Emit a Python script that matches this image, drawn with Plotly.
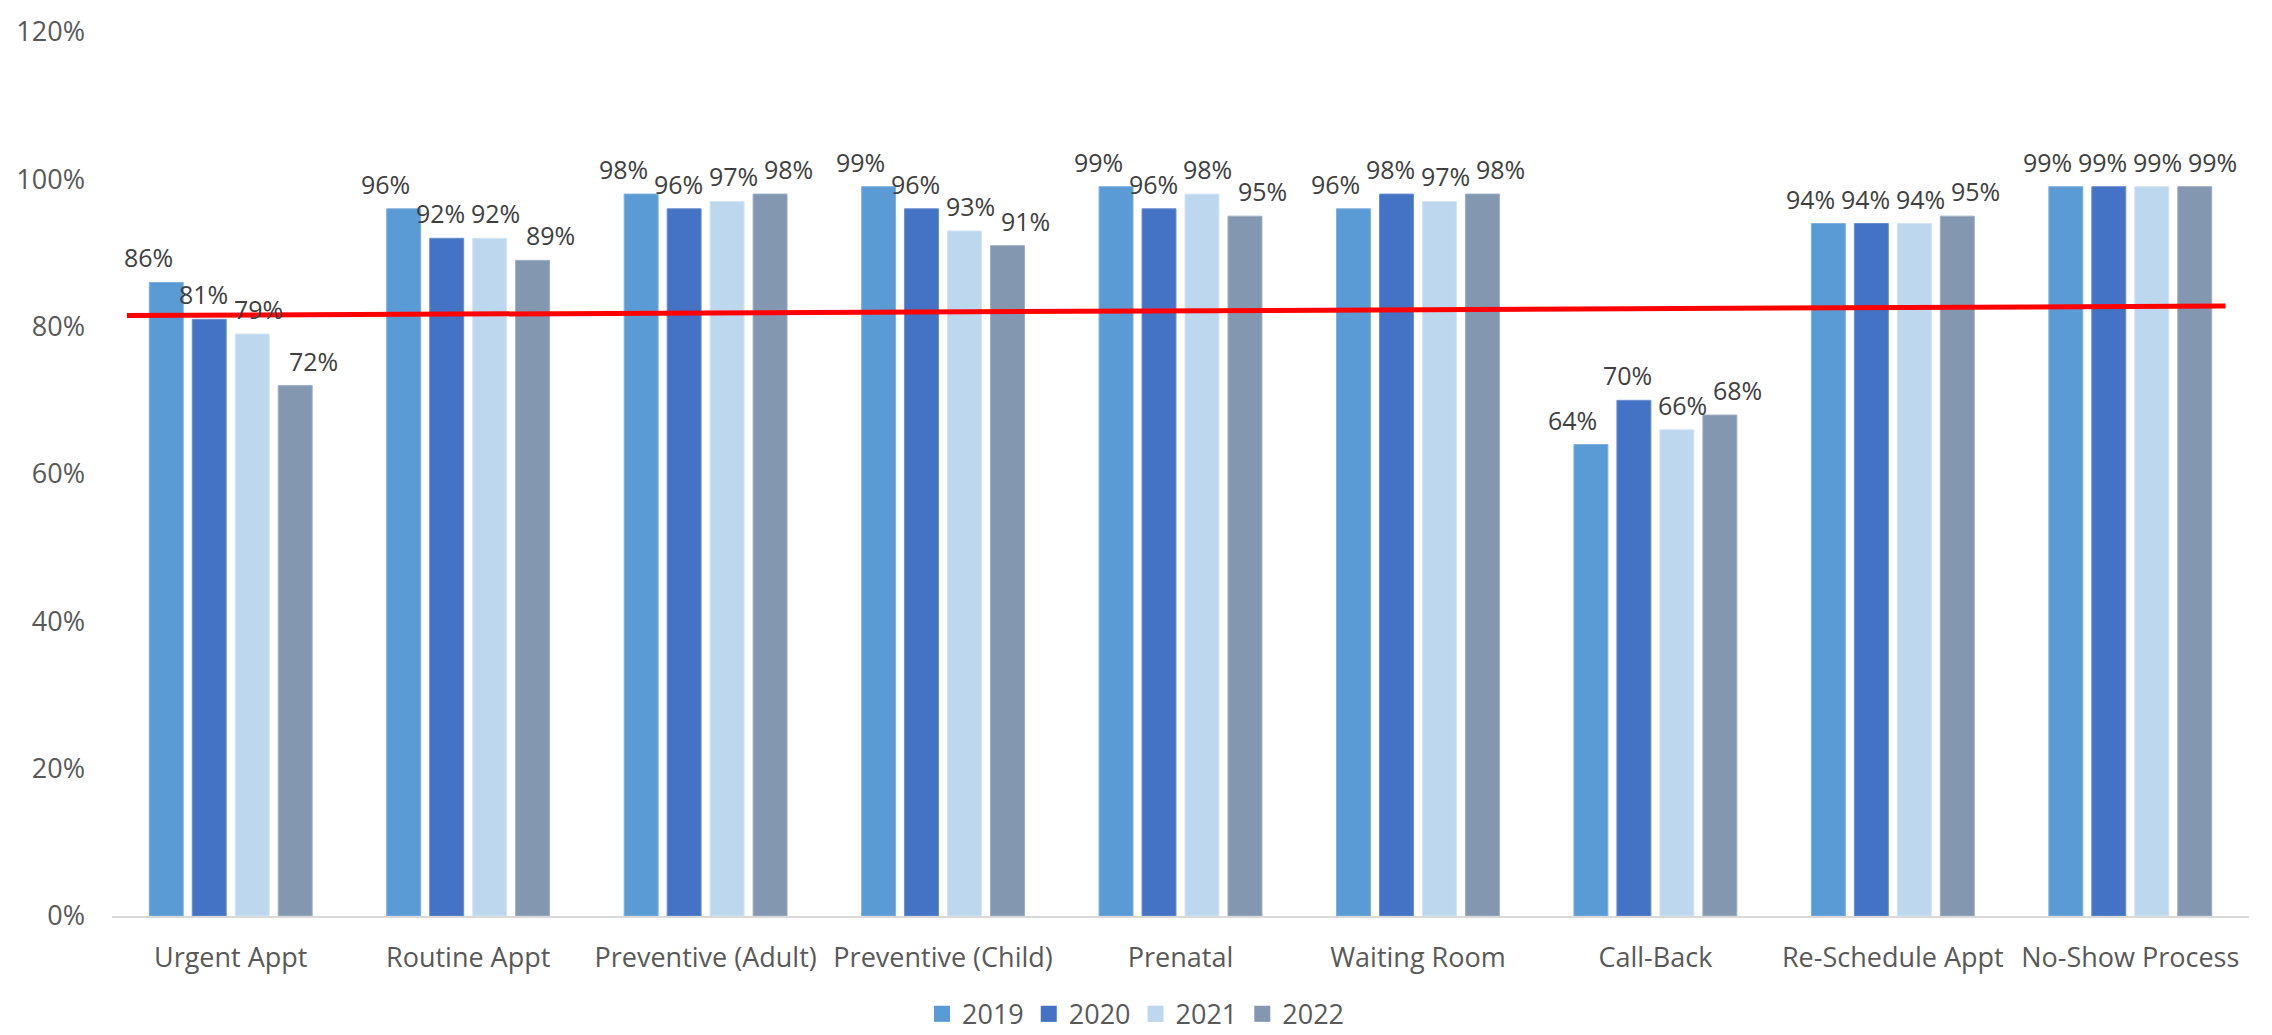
import plotly.graph_objects as go

# Survey categories and yearly compliance rates (share of 1)
categories = [
    "Urgent Appt", "Routine Appt", "Preventive (Adult)", "Preventive (Child)",
    "Prenatal", "Waiting Room", "Call-Back", "Re-Schedule Appt", "No-Show Process",
]
years = ["2019", "2020", "2021", "2022"]
rate_2019 = [0.86, 0.96, 0.98, 0.99, 0.99, 0.96, 0.64, 0.94, 0.99]
rate_2020 = [0.81, 0.92, 0.96, 0.96, 0.96, 0.98, 0.70, 0.94, 0.99]
rate_2021 = [0.79, 0.92, 0.97, 0.93, 0.98, 0.97, 0.66, 0.94, 0.99]
rate_2022 = [0.72, 0.89, 0.98, 0.91, 0.95, 0.98, 0.68, 0.95, 0.99]
series = [rate_2019, rate_2020, rate_2021, rate_2022]

# Benchmark line (start, end) values
benchmark = [0.815, 0.828]

colors = ["#5B9BD5", "#4472C4", "#BDD7EE", "#8497B0"]
outlines = ["#7FB0DD", "#6A8ED0", "#D3E4F4", "#9DADC2"]

FONT = "Open Sans"
slot = 0.181          # spacing between bars within a category
bar_w = 0.143         # bar width in category units
x_idx = list(range(len(categories)))

fig = go.Figure()
annotations = []
for j, (yr, vals) in enumerate(zip(years, series)):
    off = (j - 1.5) * slot
    fig.add_trace(go.Bar(
        x=x_idx, y=vals, name=yr, showlegend=False,
        width=bar_w, offset=off - bar_w / 2,
        marker=dict(color=colors[j], line=dict(color=outlines[j], width=1)),
        hoverinfo="skip",
    ))
    # legend swatch as a square marker
    fig.add_trace(go.Scatter(
        x=[None], y=[None], name=yr, mode="markers",
        marker=dict(symbol="square", size=16, color=colors[j]),
    ))
    for i, v in enumerate(vals):
        annotations.append(dict(
            x=i + off, y=v, xref="x", yref="y",
            text=f"{round(v * 100)}%", showarrow=False,
            yanchor="bottom", xanchor="center",
            yshift=6, xshift=(j - 1.5) * 12,
            font=dict(family=FONT, size=25, color="#404040"),
        ))

fig.update_layout(
    width=2272, height=1035,
    margin=dict(l=112, r=23, t=22, b=119),
    paper_bgcolor="white", plot_bgcolor="white",
    barmode="overlay",
    showlegend=True,
    legend=dict(
        orientation="h", x=0.5, xanchor="center", xref="container",
        y=0.02, yanchor="middle", yref="container",
        font=dict(family=FONT, size=27, color="#595959"),
        itemwidth=30, traceorder="normal",
    ),
    annotations=annotations,
    shapes=[dict(
        type="line", xref="paper", yref="y",
        x0=0.007, x1=0.989, y0=benchmark[0], y1=benchmark[1],
        line=dict(color="#FF0000", width=5),
    )],
)
fig.update_xaxes(
    range=[-0.5, len(categories) - 0.5],
    tickvals=x_idx, ticktext=categories,
    showgrid=False, zeroline=False,
    showline=True, linecolor="#D9D9D9", linewidth=2,
    ticks="", ticklabelstandoff=17,
    tickfont=dict(family=FONT, size=27, color="#595959"),
)
fig.update_yaxes(
    range=[0, 1.2], dtick=0.2, tickformat=".0%",
    showgrid=False, zeroline=False, showline=False,
    ticks="", ticklabelstandoff=26,
    tickfont=dict(family=FONT, size=27, color="#595959"),
)

fig.write_html("out.html")
